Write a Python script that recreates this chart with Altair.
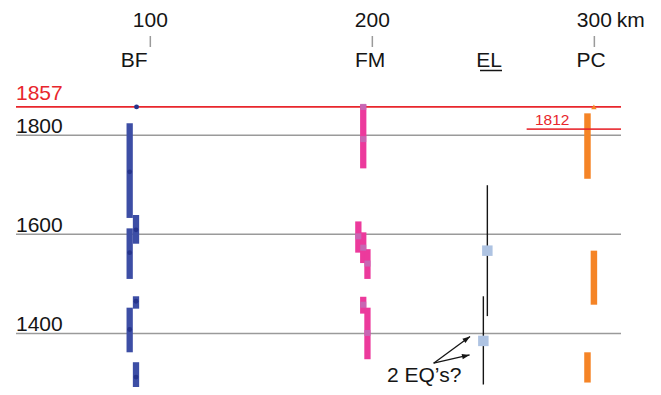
import altair as alt
import pandas as pd

# ---- data ----
tick_km = [100, 200, 300]
tick_labels = ["100", "200", "300"]
unit_label = "km"

site_names = ["BF", "FM", "EL", "PC"]
site_km = [92.7, 199.0, 252.6, 298.5]
el_underline = [248.5, 258.4]

grid_years = [1800, 1600, 1400]
grid_labels = ["1800", "1600", "1400"]

eq_years = [1857]
eq_labels = ["1857"]
eq1812_year = 1812
eq1812_span = [269.5, 312.0]
eq1812_label = "1812"
eq1812_label_km = 281.0

bf_km = [90.7, 93.55, 90.7, 93.55, 90.7, 93.55]
bf_top = [1824, 1639, 1612, 1475, 1452, 1342]
bf_bottom = [1633, 1581, 1510, 1450, 1362, 1281]
bf_dot_km = [93.8, 90.7, 93.55, 90.7, 93.55, 90.7, 93.55]
bf_dot_year = [1857, 1726, 1609, 1563, 1465, 1408, 1312]

fm_km = [195.9, 193.7, 195.9, 197.8, 195.9, 197.8]
fm_top = [1862, 1626, 1604, 1570, 1474, 1452]
fm_bottom = [1733, 1563, 1542, 1510, 1440, 1348]
fm_dot_km = [195.9, 195.9, 193.7, 195.9, 197.8, 195.9, 197.8]
fm_dot_year = [1857, 1792, 1596, 1573, 1541, 1458, 1401]

el_km = [251.8, 250.0]
el_top = [1699, 1475]
el_bottom = [1435, 1297]
el_mid = [1567, 1385]

pc_km = [296.9, 299.8, 296.9]
pc_top = [1844, 1567, 1362]
pc_bottom = [1712, 1458, 1301]
pc_mark_km = [299.8]
pc_mark_year = [1857]

arrow_origin = (227.6, 1340.0)
arrow_tip_km = [244.0, 243.8]
arrow_tip_year = [1394.0, 1356.7]
arrow_angle = [53.6, 77.0]
eq_text = "2 EQ\u2019s?"
eq_text_km = 206.6
eq_text_year = 1302

# ---- styling ----
FONT = "Liberation Sans"
RED = "#e8262c"
GRAY = "#9a9a9a"
BLUE = "#3d4ea5"
BLUE_DOT = "#26348c"
PINK = "#ec3a9c"
PINK_DOT = "#c46cb6"
ORANGE = "#f58426"
STEEL = "#aec3e2"
BLACK = "#151515"

xs = alt.Scale(domain=[39.5, 312.0], nice=False, zero=False)
ys = alt.Scale(domain=[1292, 2000], nice=False, zero=False)


def X(f, **kw):
    return alt.X(f, type="quantitative", scale=xs, axis=None, **kw)


def X2(f):
    return alt.X2(f)


def Y(f):
    return alt.Y(f, type="quantitative", scale=ys, axis=None)


base_x_axis = alt.Axis(orient="top", labels=False, ticks=False, domain=True,
                       domainColor=GRAY, domainWidth=1.5, grid=False, title=None)

# top axis line + ticks
ticks_df = pd.DataFrame({"km": tick_km, "label": tick_labels})
top_ticks = alt.Chart(ticks_df).mark_rule(color=GRAY, strokeWidth=1.5).encode(
    x=alt.X("km:Q", scale=xs, axis=base_x_axis),
    y=alt.value(0), y2=alt.value(11))
top_labels = alt.Chart(ticks_df).mark_text(
    font=FONT, fontSize=21, color=BLACK, baseline="alphabetic", align="center").encode(
    x=X("km"), y=alt.value(-9), text="label:N")
unit_df = pd.DataFrame({"km": [tick_km[-1]], "label": [unit_label]})
unit_text = alt.Chart(unit_df).mark_text(
    font=FONT, fontSize=21, color=BLACK, baseline="alphabetic", align="left", dx=22.5).encode(
    x=X("km"), y=alt.value(-9), text="label:N")

# site labels
sites_df = pd.DataFrame({"km": site_km, "name": site_names})
site_text = alt.Chart(sites_df).mark_text(
    font=FONT, fontSize=21, color=BLACK, baseline="alphabetic", align="center").encode(
    x=X("km"), y=alt.value(31), text="name:N")
ul_df = pd.DataFrame({"a": [el_underline[0]], "b": [el_underline[1]]})
underline = alt.Chart(ul_df).mark_rule(color=BLACK, strokeWidth=1.5).encode(
    x=X("a"), x2=X2("b"), y=alt.value(34.5))

# grid lines
grid_df = pd.DataFrame({"year": grid_years, "label": grid_labels})
grid = alt.Chart(grid_df).mark_rule(color=GRAY, strokeWidth=1.5).encode(y=Y("year"))
grid_text = alt.Chart(grid_df).mark_text(
    font=FONT, fontSize=21, color=BLACK, baseline="alphabetic", align="left", dy=-2).encode(
    x=alt.value(0), y=Y("year"), text="label:N")

# 1857 line
eq_df = pd.DataFrame({"year": eq_years, "label": eq_labels})
eq_line = alt.Chart(eq_df).mark_rule(color=RED, strokeWidth=1.7).encode(y=Y("year"))
eq_text_mark = alt.Chart(eq_df).mark_text(
    font=FONT, fontSize=21, color=RED, baseline="alphabetic", align="left", dy=-7).encode(
    x=alt.value(0), y=Y("year"), text="label:N")

# BF
bf_df = pd.DataFrame({"km": bf_km, "top": bf_top, "bottom": bf_bottom})
bf_bars = alt.Chart(bf_df).mark_rule(color=BLUE, strokeWidth=6.3, strokeCap="butt", clip=True).encode(
    x=X("km"), y=Y("top"), y2=alt.Y2("bottom"))
bf_dots_df = pd.DataFrame({"km": bf_dot_km, "year": bf_dot_year})
bf_dots = alt.Chart(bf_dots_df).mark_circle(color=BLUE_DOT, size=24, opacity=1, clip=True).encode(
    x=X("km"), y=Y("year"))

# FM
fm_df = pd.DataFrame({"km": fm_km, "top": fm_top, "bottom": fm_bottom})
fm_bars = alt.Chart(fm_df).mark_rule(color=PINK, strokeWidth=6.3, strokeCap="butt", clip=True).encode(
    x=X("km"), y=Y("top"), y2=alt.Y2("bottom"))
fm_dots_df = pd.DataFrame({"km": fm_dot_km, "year": fm_dot_year})
fm_dots = alt.Chart(fm_dots_df).mark_square(color=PINK_DOT, size=36, opacity=0.9, clip=True).encode(
    x=X("km"), y=Y("year"))

# PC
pc_df = pd.DataFrame({"km": pc_km, "top": pc_top, "bottom": pc_bottom})
pc_bars = alt.Chart(pc_df).mark_rule(color=ORANGE, strokeWidth=6.5, strokeCap="butt", clip=True).encode(
    x=X("km"), y=Y("top"), y2=alt.Y2("bottom"))
pc_mark_df = pd.DataFrame({"km": pc_mark_km, "year": pc_mark_year})
pc_mark = alt.Chart(pc_mark_df).mark_point(shape="triangle-up", filled=True, color=ORANGE,
                                            size=30, opacity=1).encode(x=X("km"), y=Y("year"))

# 1812 line
e1812_df = pd.DataFrame({"a": [eq1812_span[0]], "b": [eq1812_span[1]], "year": [eq1812_year],
                         "km": [eq1812_label_km], "label": [eq1812_label]})
e1812_line = alt.Chart(e1812_df).mark_rule(color=RED, strokeWidth=1.7, opacity=0.9).encode(
    x=X("a"), x2=X2("b"), y=Y("year"))
e1812_text = alt.Chart(e1812_df).mark_text(
    font=FONT, fontSize=15.5, color=RED, baseline="alphabetic", align="center", dy=-4).encode(
    x=X("km"), y=Y("year"), text="label:N")

# EL
el_df = pd.DataFrame({"km": el_km, "top": el_top, "bottom": el_bottom, "mid": el_mid})
el_lines = alt.Chart(el_df).mark_rule(color=BLACK, strokeWidth=1.4, clip=True).encode(
    x=X("km"), y=Y("top"), y2=alt.Y2("bottom"))
el_squares = alt.Chart(el_df).mark_square(color=STEEL, size=110, opacity=1).encode(
    x=X("km"), y=Y("mid"))

# arrows
arr_df = pd.DataFrame({"x0": [arrow_origin[0]] * 2, "y0": [arrow_origin[1]] * 2,
                       "x1": arrow_tip_km, "y1": arrow_tip_year, "ang": arrow_angle})
arr_lines = alt.Chart(arr_df).mark_rule(color=BLACK, strokeWidth=1.3).encode(
    x=X("x0"), y=Y("y0"), x2=X2("x1"), y2=alt.Y2("y1"))
arr_heads = alt.Chart(arr_df).mark_point(shape="M0,0L-0.65,1.9L0.65,1.9Z", filled=True,
                                          color=BLACK, size=64, opacity=1).encode(
    x=X("x1"), y=Y("y1"), angle=alt.Angle("ang:Q", scale=None))
eq_df2 = pd.DataFrame({"km": [eq_text_km], "year": [eq_text_year], "label": [eq_text]})
eq_note = alt.Chart(eq_df2).mark_text(
    font=FONT, fontSize=21, color=BLACK, baseline="alphabetic", align="left").encode(
    x=X("km"), y=Y("year"), text="label:N")

chart = alt.layer(
    top_ticks, grid, eq_line,
    bf_bars, bf_dots, fm_bars, fm_dots, pc_bars, pc_mark, e1812_line,
    el_lines, el_squares, arr_lines, arr_heads,
    top_labels, unit_text, site_text, underline, grid_text, eq_text_mark, e1812_text, eq_note,
).properties(
    width=605, height=351,
    autosize=alt.AutoSizeParams(type="none"),
    padding={"left": 8, "top": 28, "right": 32, "bottom": 0},
).configure_view(stroke=None)

chart.save("out.html", embed_options={"renderer": "svg", "actions": False})
